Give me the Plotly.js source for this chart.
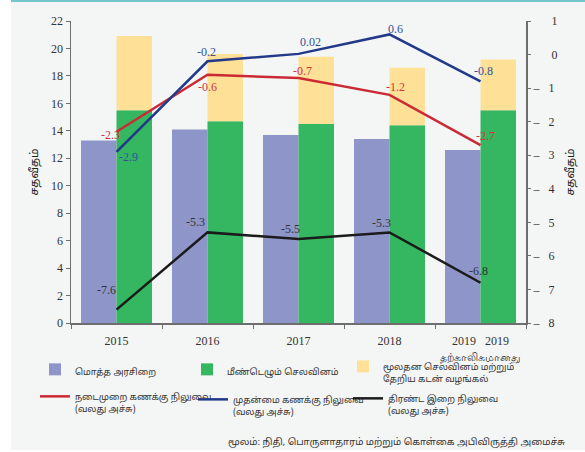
<!DOCTYPE html>
<html>
<head>
<meta charset="utf-8">
<script src="https://cdn.plot.ly/plotly-3.0.1.min.js"></script>
<style>html,body{margin:0;padding:0;background:#fff;}#chart{width:585px;height:452px;}</style>
</head>
<body>
<div id="chart"></div>
<script>
// ---- data ----
const categories = ['2015', '2016', '2017', '2018', '2019'];
const tickLabels = ['2015', '2016', '2017', '2018',
  '2019\u00A0\u00A0 2019<br><span style="font-size:10.5px">தற்காலிகமானது</span>'];
const totalRevenue = [13.3, 14.1, 13.7, 13.4, 12.6];
const recurrentExp = [15.5, 14.7, 14.5, 14.4, 15.5];
const capitalExp = [5.4, 4.9, 4.9, 4.2, 3.7];
const currentAccount = [-2.3, -0.6, -0.7, -1.2, -2.7];
const primaryBalance = [-2.9, -0.2, 0.02, 0.6, -0.8];
const overallBalance = [-7.6, -5.3, -5.5, -5.3, -6.8];
const currentLabels = ['-2.3', '-0.6', '-0.7', '-1.2', '-2.7'];
const primaryLabels = ['-2.9', '-0.2', '0.02', '0.6', '-0.8'];
const overallLabels = ['-7.6', '-5.3', '-5.5', '-5.3', '-6.8'];
const leftTicks = [0, 2, 4, 6, 8, 10, 12, 14, 16, 18, 20, 22];
const rightTickVals = [1, 0, -1, -2, -3, -4, -5, -6, -7, -8];
const rightTickText = ['\u00A0\u00A0\u00A0\u00A0\u00A0 1', '\u00A0\u00A0\u00A0\u00A0\u00A0 0',
  '\u2013\u00A0\u00A0 1', '\u2013\u00A0\u00A0 2', '\u2013\u00A0\u00A0 3', '\u2013\u00A0\u00A0 4',
  '\u2013\u00A0\u00A0 5', '\u2013\u00A0\u00A0 6', '\u2013\u00A0\u00A0 7', '\u2013\u00A0\u00A0 8'];
const names = {
  revenue: 'மொத்த அரசிறை',
  recurrent: 'மீண்டெழும் செலவினம்',
  capital: 'மூலதன செலவினம் மற்றும்<br>தேறிய கடன் வழங்கல்',
  current: 'நடைமுறை கணக்கு நிலுவை<br>(வலது அச்சு)',
  primary: 'முதன்மை கணக்கு நிலுவை<br>(வலது அச்சு)',
  overall: 'திரண்ட இறை நிலுவை<br>(வலது அச்சு)'
};
const axisTitle = 'சதவீதம்';
const sourceText = 'மூலம்: நிதி, பொருளாதாரம் மற்றும் கொள்கை அபிவிருத்தி அமைச்சு';

// ---- style ----
const C = {
  revenue: '#8E95C9', recurrent: '#35B660', capital: '#FEE097',
  current: '#CB2A35', primary: '#22398A', overall: '#1B1B1B',
  bg: '#F3F6F5', axis: '#6E6E6E', text: '#333333'
};
const serif = '"Liberation Serif", "DejaVu Serif", serif';
const tamil = '"Noto Sans Tamil", "Lohit Tamil", "Noto Sans", sans-serif';

const traces = [
  {type: 'bar', x: categories, y: totalRevenue, name: names.revenue, legend: 'legend',
   marker: {color: C.revenue}, offsetgroup: 'a', hoverinfo: 'skip'},
  {type: 'bar', x: categories, y: recurrentExp, name: names.recurrent, legend: 'legend2',
   marker: {color: C.recurrent}, offsetgroup: 'b', hoverinfo: 'skip'},
  {type: 'bar', x: categories, y: capitalExp, base: recurrentExp, name: names.capital,
   legend: 'legend3', marker: {color: C.capital}, offsetgroup: 'b', hoverinfo: 'skip'},
  {type: 'scatter', mode: 'lines', x: categories, y: currentAccount, yaxis: 'y2',
   legend: 'legend4', name: names.current, line: {color: C.current, width: 2.5}},
  {type: 'scatter', mode: 'lines', x: categories, y: primaryBalance, yaxis: 'y2',
   legend: 'legend5', name: names.primary, line: {color: C.primary, width: 2.5}},
  {type: 'scatter', mode: 'lines', x: categories, y: overallBalance, yaxis: 'y2',
   legend: 'legend6', name: names.overall, line: {color: C.overall, width: 2.5}}
];

// label offsets (pixels) per point
const curShift = [[-6, -3], [0, -12], [4, 7], [6, 8], [5, 9]];
const priShift = [[12, -5], [-1, 9], [12, 12], [6, 5], [3, 10]];
const ovShift = [[-10, 20], [-12, 10], [-8, 10], [-8, 9], [-2, 12]];

const annotations = [];
function addLabels(vals, labels, shifts, color) {
  vals.forEach((v, i) => {
    annotations.push({x: i, y: v, xref: 'x', yref: 'y2', text: labels[i],
      showarrow: false, xshift: shifts[i][0], yshift: shifts[i][1],
      font: {family: serif, size: 12, color: color}});
  });
}
addLabels(currentAccount, currentLabels, curShift, '#D0343D');
addLabels(primaryBalance, primaryLabels, priShift, '#34509A');
addLabels(overallBalance, overallLabels, ovShift, '#333333');
annotations.push({x: 0.34, y: -0.3945, xref: 'paper', yref: 'paper', xanchor: 'left',
  yanchor: 'middle', showarrow: false, text: sourceText,
  font: {family: tamil, size: 9.5, color: C.text}});

// legend positions in pixels of the page (left edge of each legend box, top edge)
function legendAt(px, py) {
  return {orientation: 'v', x: (px - 71) / 455, xanchor: 'left', y: (323 - py) / 302,
    yanchor: 'top', bgcolor: 'rgba(0,0,0,0)', valign: 'top',
    font: {family: tamil, size: 9, color: C.text}, itemwidth: 30,
    itemclick: false, itemdoubleclick: false};
}

const layout = {
  width: 585, height: 452,
  margin: {l: 71, r: 59, t: 21, b: 129, pad: 0},
  paper_bgcolor: C.bg, plot_bgcolor: 'rgba(0,0,0,0)',
  barmode: 'group', bargap: 0.22, bargroupgap: 0,
  font: {family: serif, size: 12, color: C.text},
  showlegend: true,
  legend: legendAt(35, 357),
  legend2: legendAt(187, 357),
  legend3: legendAt(343, 354),
  legend4: legendAt(35, 384),
  legend5: legendAt(193, 387),
  legend6: legendAt(348, 386),
  xaxis: {type: 'category', tickmode: 'array', tickvals: categories, ticktext: tickLabels,
    tickson: 'boundaries', ticks: 'outside', ticklen: 4, tickcolor: C.axis,
    showline: true, linecolor: C.axis, linewidth: 1.5, showgrid: false, zeroline: false,
    ticklabelstandoff: 6,
    tickfont: {family: serif, size: 12, color: C.text}, range: [-0.5, 4.5], fixedrange: true},
  yaxis: {range: [0, 22], tickvals: leftTicks, ticks: 'outside', ticklen: 4, tickcolor: C.axis,
    showline: true, linecolor: C.axis, linewidth: 1.5, showgrid: false, zeroline: false,
    tickfont: {family: serif, size: 12, color: C.text},
    title: {text: axisTitle, font: {family: tamil, size: 11, color: '#222'}, standoff: 10},
    fixedrange: true},
  yaxis2: {overlaying: 'y', side: 'right', range: [-8, 1], tickmode: 'array',
    tickvals: rightTickVals, ticktext: rightTickText, ticks: 'outside', ticklen: 3,
    tickcolor: C.axis, showline: true, linecolor: C.axis, linewidth: 2, showgrid: false,
    zeroline: false, tickfont: {family: serif, size: 12, color: C.text},
    title: {text: axisTitle, font: {family: tamil, size: 11, color: '#222'}, standoff: 10},
    fixedrange: true},
  shapes: [
    {type: 'rect', xref: 'paper', yref: 'paper', x0: -0.2, x1: -0.1319, y0: -0.5, y1: 1.1,
     fillcolor: '#FFFFFF', line: {width: 0}, layer: 'below'},
    {type: 'rect', xref: 'paper', yref: 'paper', x0: -0.1319, x1: 1.2, y0: 1.063, y1: 1.1,
     fillcolor: '#72C7CD', line: {width: 0}, layer: 'below'},
    {type: 'rect', xref: 'paper', yref: 'paper', x0: -0.1319, x1: 1.2, y0: -0.5, y1: -0.4205,
     fillcolor: '#FFFFFF', line: {width: 0}, layer: 'below'}
  ],
  annotations: annotations
};

Plotly.newPlot('chart', traces, layout, {displayModeBar: false, staticPlot: true});
</script>
</body>
</html>
